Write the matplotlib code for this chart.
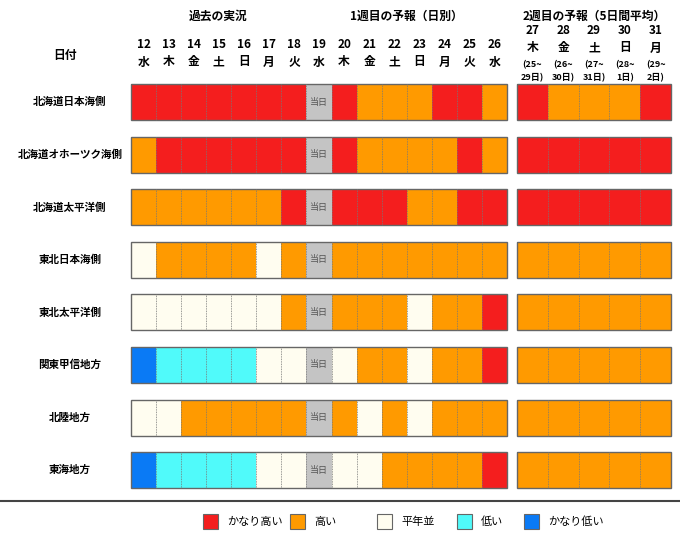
import matplotlib
matplotlib.use("Agg")
import matplotlib.pyplot as plt
from matplotlib.patches import Rectangle

plt.rcParams['font.family'] = ['Noto Sans CJK JP', 'DejaVu Sans']

regions = ["北海道日本海側", "北海道オホーツク海側", "北海道太平洋側", "東北日本海側",
           "東北太平洋側", "関東甲信地方", "北陸地方", "東海地方"]
days1 = ["12", "13", "14", "15", "16", "17", "18", "19", "20", "21", "22", "23", "24", "25", "26"]
wd1 = ["水", "木", "金", "土", "日", "月", "火", "水", "木", "金", "土", "日", "月", "火", "水"]
days2 = ["27", "28", "29", "30", "31"]
wd2 = ["木", "金", "土", "日", "月"]
rng2a = ["(25~", "(26~", "(27~", "(28~", "(29~"]
rng2b = ["29日)", "30日)", "31日)", "1日)", "2日)"]
# 4=かなり高い 3=高い 2=平年並 1=低い 0=かなり低い -1=当日
week1 = [
    [4,4,4,4,4,4,4,-1,4,3,3,3,4,4,3],
    [3,4,4,4,4,4,4,-1,4,3,3,3,3,4,3],
    [3,3,3,3,3,3,4,-1,4,4,4,3,3,4,4],
    [2,3,3,3,3,2,3,-1,3,3,3,3,3,3,3],
    [2,2,2,2,2,2,3,-1,3,3,3,2,3,3,4],
    [0,1,1,1,1,2,2,-1,2,3,3,2,3,3,4],
    [2,2,3,3,3,3,3,-1,3,2,3,2,3,3,3],
    [0,1,1,1,1,2,2,-1,2,2,3,3,3,3,4],
]
week2 = [
    [4,3,3,3,4],
    [4,4,4,4,4],
    [4,4,4,4,4],
    [3,3,3,3,3],
    [3,3,3,3,3],
    [3,3,3,3,3],
    [3,3,3,3,3],
    [3,3,3,3,3],
]
legend_labels = ["かなり高い", "高い", "平年並", "低い", "かなり低い"]
colors = {4: "#f41e1e", 3: "#ff9a00", 2: "#fffdf0", 1: "#50fafa", 0: "#0a7af5", -1: "#c4c4c4"}

W, H = 680, 539
fig = plt.figure(figsize=(W/100, H/100), dpi=100)
ax = fig.add_axes([0, 0, 1, 1])
ax.set_xlim(0, W); ax.set_ylim(H, 0); ax.axis('off')

x1, cw1 = 131, 25.07
x2, cw2 = 517, 30.8
y0, rh, rs = 84, 36, 52.6

def draw_row(vals, x, cw, y):
    for j, v in enumerate(vals):
        ax.add_patch(Rectangle((x + j*cw, y), cw, rh, facecolor=colors[v], edgecolor='none'))
        if v == -1:
            ax.text(x + j*cw + cw/2, y + rh/2, "当日", fontsize=6.5, color="#555555", ha='center', va='center')
        if j > 0:
            ax.plot([x + j*cw]*2, [y, y+rh], color="#777777", lw=0.6, ls=(0, (1, 1)))
    ax.add_patch(Rectangle((x, y), cw*len(vals), rh, facecolor='none', edgecolor="#666666", lw=1))

for i, r in enumerate(regions):
    y = y0 + i*rs
    ax.text(70, y + rh/2, r, fontsize=7.6, fontweight='bold', ha='center', va='center')
    draw_row(week1[i], x1, cw1, y)
    draw_row(week2[i], x2, cw2, y)

fs = 8.5
ax.text(218, 16, "過去の実況", fontsize=fs, fontweight='bold', ha='center', va='center')
ax.text(406, 16, "1週目の予報（日別）", fontsize=fs, fontweight='bold', ha='center', va='center')
ax.text(594, 16, "2週目の予報（5日間平均）", fontsize=fs, fontweight='bold', ha='center', va='center')
ax.text(65, 55, "日付", fontsize=fs, fontweight='bold', ha='center', va='center')
for j, (d, w) in enumerate(zip(days1, wd1)):
    cx = x1 + j*cw1 + cw1/2
    ax.text(cx, 45, d, fontsize=fs, fontweight='bold', ha='center', va='center')
    ax.text(cx, 62, w, fontsize=fs, fontweight='bold', ha='center', va='center')
for j in range(5):
    cx = x2 + j*cw2 + cw2/2
    ax.text(cx, 31, days2[j], fontsize=fs, fontweight='bold', ha='center', va='center')
    ax.text(cx, 48, wd2[j], fontsize=fs, fontweight='bold', ha='center', va='center')
    ax.text(cx, 65, rng2a[j], fontsize=6.5, fontweight='bold', ha='center', va='center')
    ax.text(cx, 78, rng2b[j], fontsize=6.5, fontweight='bold', ha='center', va='center')

ax.plot([0, W], [501, 501], color="#444444", lw=1.5)
lx = [203, 290, 377, 457, 524]
for k, (lab, v) in enumerate(zip(legend_labels, [4, 3, 2, 1, 0])):
    ax.add_patch(Rectangle((lx[k], 514), 15, 15, facecolor=colors[v], edgecolor="#666666", lw=0.8))
    ax.text(lx[k] + 24, 521.5, lab, fontsize=8, ha='left', va='center')

fig.savefig("out.png", dpi=100)
